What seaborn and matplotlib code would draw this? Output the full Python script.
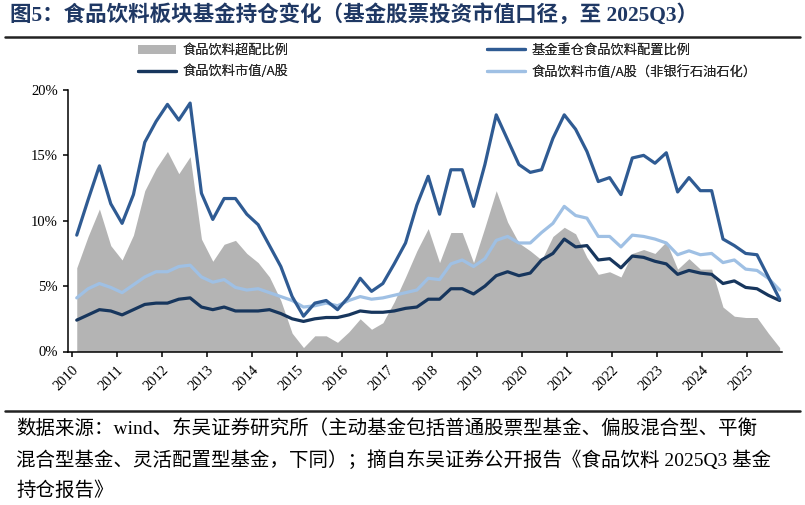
import numpy as np
import matplotlib
matplotlib.use("Agg")
import matplotlib.pyplot as plt
from matplotlib.lines import Line2D
from matplotlib.patches import Patch
from matplotlib.ticker import PercentFormatter
import seaborn as sns

# quarterly data, 2010Q1 - 2025Q3 (%)
overweight = [6.4, 8.8, 10.9, 8.1, 7.0, 8.9, 12.3, 14.0, 15.3, 13.6, 14.9, 8.6, 6.9, 8.2, 8.5, 7.5,
              6.8, 5.7, 3.9, 1.4, 0.3, 1.2, 1.2, 0.7, 1.5, 2.5, 1.7, 2.2, 3.8, 5.7, 7.7, 9.4,
              6.8, 9.1, 9.1, 6.8, 9.5, 12.3, 9.9, 8.3, 7.7, 7.0, 8.8, 9.5, 9.0, 7.2, 5.9, 6.1,
              5.7, 7.5, 7.8, 7.5, 8.4, 6.3, 7.1, 6.3, 6.3, 3.4, 2.7, 2.6, 2.6, 1.4, 0.3]
fund_weight = [8.9, 11.6, 14.2, 11.3, 9.8, 12.0, 16.0, 17.6, 18.9, 17.7, 19.0, 12.1, 10.1, 11.7, 11.7, 10.5,
               9.7, 8.1, 6.5, 4.2, 2.7, 3.7, 3.9, 3.2, 4.2, 5.6, 4.6, 5.2, 6.7, 8.3, 11.2, 13.4,
               10.5, 13.9, 13.9, 11.1, 14.3, 18.1, 16.2, 14.3, 13.7, 13.9, 16.3, 18.1, 17.0, 15.3, 13.0, 13.3,
               12.0, 14.8, 15.0, 14.4, 15.2, 12.2, 13.3, 12.3, 12.3, 8.6, 8.1, 7.5, 7.4, 5.7, 4.0]
mkt_share = [2.4, 2.8, 3.2, 3.1, 2.8, 3.2, 3.6, 3.7, 3.7, 4.0, 4.1, 3.4, 3.2, 3.4, 3.1, 3.1,
             3.1, 3.2, 2.9, 2.5, 2.3, 2.5, 2.6, 2.6, 2.8, 3.1, 3.0, 3.0, 3.1, 3.3, 3.4, 4.0,
             4.0, 4.8, 4.8, 4.4, 5.0, 5.8, 6.1, 5.8, 6.0, 7.0, 7.5, 8.6, 8.0, 8.1, 7.0, 7.1,
             6.4, 7.3, 7.2, 6.9, 6.7, 5.9, 6.2, 6.0, 5.9, 5.2, 5.4, 4.9, 4.8, 4.3, 3.9]
mkt_share_ex = [4.1, 4.8, 5.2, 4.9, 4.5, 5.1, 5.7, 6.1, 6.1, 6.5, 6.6, 5.7, 5.3, 5.5, 4.9, 4.7,
                4.8, 4.5, 4.2, 3.9, 3.4, 3.5, 3.7, 3.5, 3.9, 4.2, 4.0, 4.1, 4.3, 4.5, 4.7, 5.6,
                5.5, 6.7, 7.0, 6.5, 7.1, 8.5, 8.8, 8.3, 8.3, 9.1, 9.8, 11.1, 10.4, 10.2, 8.8, 8.8,
                8.0, 8.9, 8.8, 8.6, 8.3, 7.4, 7.7, 7.4, 7.5, 6.8, 7.0, 6.3, 6.2, 5.6, 4.7]
years = list(range(2010, 2026))
labels = ["食品饮料超配比例", "食品饮料市值/A股", "基金重仓食品饮料配置比例", "食品饮料市值/A股（非银行石油石化）"]

c_gray = "#B4B4B4"
c_blue = "#2F5B93"
c_navy = "#17365D"
c_light = "#9FC0E4"

sns.set_theme(style="white")
plt.rcParams["font.family"] = ["Liberation Serif", "Noto Sans CJK SC", "DejaVu Sans"]

fig = plt.figure(figsize=(8.05, 5.05), dpi=100)
ax = fig.add_axes([67.7 / 805, 1 - 351.5 / 505, 714 / 805, 261.5 / 505])

xs = 2010.111 + 0.252 * np.arange(len(overweight))
ax.fill_between(xs, 0, overweight, color=c_gray, lw=0)
sns.lineplot(x=xs, y=mkt_share_ex, color=c_light, lw=2.3, ax=ax)
sns.lineplot(x=xs, y=mkt_share, color=c_navy, lw=2.3, ax=ax)
sns.lineplot(x=xs, y=fund_weight, color=c_blue, lw=2.3, ax=ax)

ax.set_xlim(2009.91, 2025.78)
ax.set_ylim(0, 20)
ax.set_yticks([0, 5, 10, 15, 20])
ax.yaxis.set_major_formatter(PercentFormatter(xmax=100, decimals=0))
ax.set_xticks(years)
ax.set_xticklabels([str(y) for y in years], rotation=45, ha="right", va="top", rotation_mode="anchor")
for sp in ["top", "right"]:
    ax.spines[sp].set_visible(False)
for sp in ["left", "bottom"]:
    ax.spines[sp].set_color("black")
    ax.spines[sp].set_linewidth(1.1)
ax.tick_params(axis="both", direction="out", length=3.5, width=1.1, color="black",
               labelsize=10.5, labelcolor="black", bottom=True, left=True)
ax.tick_params(axis="x", pad=5)
for t in ax.get_xticklabels() + ax.get_yticklabels():
    t.set_family("Liberation Serif")

# legend, two columns
legend_font = {"family": ["Noto Sans CJK SC"], "size": 9.5}
h_left = [Patch(facecolor=c_gray, edgecolor="none"), Line2D([], [], color=c_navy, lw=2.3)]
h_right = [Line2D([], [], color=c_blue, lw=2.3), Line2D([], [], color=c_light, lw=2.3)]
for handles, labs, x0 in [(h_left, labels[:2], 138 / 805), (h_right, labels[2:], 487 / 805)]:
    leg = fig.legend(handles, labs, loc="upper left", bbox_to_anchor=(x0, 1 - 44 / 505),
                     frameon=False, prop=legend_font, handlelength=2.9, handletextpad=0.5,
                     labelspacing=0.6, borderpad=0, borderaxespad=0)
    fig.add_artist(leg)

# title and rules
fig.text(10 / 805, 1 - 15 / 505, "图5：食品饮料板块基金持仓变化（基金股票投资市值口径，至 2025Q3）",
         fontsize=15.5, fontweight="bold", color="#1F3864", va="center", ha="left")
fig.add_artist(Line2D([5 / 805, 800 / 805], [1 - 37 / 505] * 2, color="#222222", lw=1.8))
fig.add_artist(Line2D([5 / 805, 800 / 805], [1 - 410.5 / 505] * 2, color="#222222", lw=1.8))

notes = ["数据来源：wind、东吴证券研究所（主动基金包括普通股票型基金、偏股混合型、平衡",
         "混合型基金、灵活配置型基金，下同）；摘自东吴证券公开报告《食品饮料 2025Q3 基金",
         "持仓报告》"]
for k, line in enumerate(notes):
    fig.text(16 / 805, 1 - (429 + 31 * k) / 505, line, fontsize=14, color="black",
             va="center", ha="left")

fig.savefig("out.png", dpi=100)
